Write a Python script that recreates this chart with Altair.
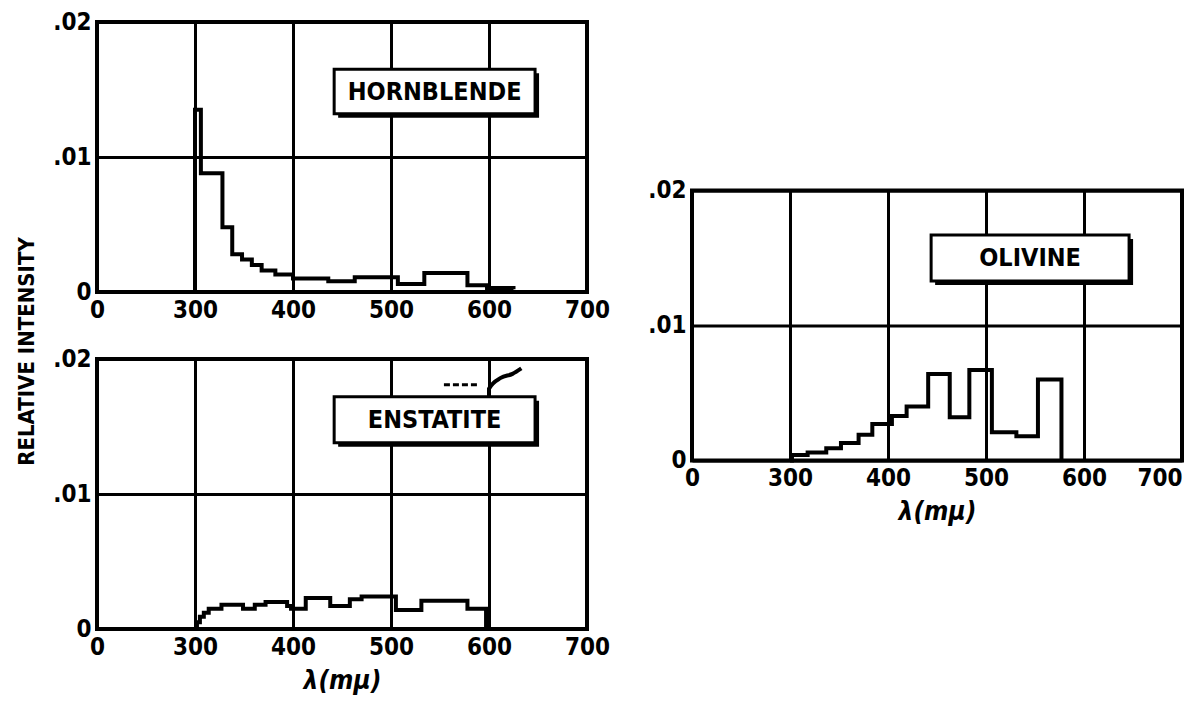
import altair as alt
import pandas as pd

# ---------------- data ----------------
X_TICKS = [200, 300, 400, 500, 600, 700]   # position 200 is labelled "0" (broken axis)
Y_TICKS = [0, 0.01, 0.02]

horn_x = [300, 300, 306, 328, 338, 348, 358, 368, 382, 400, 436, 463, 507, 534, 578, 598, 625]
horn_y = [0, 0.0135, 0.0088, 0.0048, 0.0028, 0.0024, 0.0020, 0.0016, 0.0013, 0.0010,
          0.0008, 0.0011, 0.0006, 0.0014, 0.0005, 0.0003, 0.0002]

ens_x = [300, 302, 305, 309, 314, 327, 349, 361, 372, 394, 398, 413, 438, 458, 470, 505, 531, 578, 597]
ens_y = [0, 0.0005, 0.0009, 0.0012, 0.0015, 0.0018, 0.0015, 0.0018, 0.0020, 0.0017,
         0.0015, 0.0023, 0.0017, 0.0022, 0.0024, 0.0014, 0.0021, 0.0015, 0]

ens_hi_x = [600, 600, 612, 624, 633]
ens_hi_y = [0.0166, 0.0178, 0.0186, 0.0189, 0.0193]
ens_dash_x = [554, 588]
ens_dash_y = [0.0181, 0.0181]

ol_x = [300, 302, 318, 337, 352, 370, 384, 404, 419, 441, 463, 483, 506, 531, 553, 577]
ol_y = [0, 0.0004, 0.0006, 0.0009, 0.0013, 0.0019, 0.0027, 0.0033, 0.0040, 0.0064,
        0.0032, 0.0067, 0.0021, 0.0018, 0.0060, 0]

labels = ["HORNBLENDE", "ENSTATITE", "OLIVINE"]
box_x = [442, 442, 444]
box_x2 = [647, 647, 646]
box_y = [0.0132, 0.0138, 0.0133]
box_y2 = [0.0165, 0.0172, 0.0167]

Y_TITLE = "RELATIVE INTENSITY"
X_TITLE = "λ(mμ)"

# ---------------- style ----------------
FONT = "DejaVu Sans Condensed, Liberation Sans, sans-serif"
W, H = 490, 270


def xenc(field, title=None, flush_last=False):
    ax = dict(values=X_TICKS, labelExpr="datum.value == 200 ? '0' : datum.value")
    if flush_last:
        ax["labelAlign"] = {"condition": {"test": "datum.value == 700", "value": "right"},
                            "value": "center"}
    return alt.X(field, type="quantitative", title=title,
                 scale=alt.Scale(domain=[200, 700], nice=False, zero=False),
                 axis=alt.Axis(**ax))


def yenc(field):
    return alt.Y(field, type="quantitative", title=None,
                 scale=alt.Scale(domain=[0, 0.02], nice=False),
                 axis=alt.Axis(values=Y_TICKS,
                               labelExpr="datum.value == 0 ? '0' : (datum.value < 0.015 ? '.01' : '.02')"))


def panel(xs, ys, idx, xtitle=None, extras=(), flush_last=False):
    X = lambda f: xenc(f, xtitle, flush_last)
    df = pd.DataFrame({"x": xs, "y": ys})
    line = alt.Chart(df).mark_line(interpolate="step-after", color="black",
                                   strokeWidth=4, strokeJoin="miter").encode(
        x=X("x"), y=yenc("y"))
    bdf = pd.DataFrame({"x": [box_x[idx]], "x2": [box_x2[idx]],
                        "y": [box_y[idx]], "y2": [box_y2[idx]], "t": [labels[idx]]})
    bbase = alt.Chart(bdf)
    shadow = bbase.mark_rect(color="black", xOffset=4, x2Offset=4, yOffset=4, y2Offset=4).encode(
        x=X("x"), x2="x2", y=yenc("y"), y2="y2")
    box = bbase.mark_rect(fill="white", stroke="black", strokeWidth=3).encode(
        x=X("x"), x2="x2", y=yenc("y"), y2="y2")
    txt = bbase.transform_calculate(xc="(datum.x + datum.x2) / 2", yc="(datum.y + datum.y2) / 2").mark_text(
        font=FONT, fontSize=25, fontWeight="bold", color="black", baseline="middle", align="center").encode(
        x=X("xc:Q"), y=yenc("yc:Q"), text="t:N")
    layers = [line, *[e(X) for e in extras], shadow, box, txt]
    return alt.layer(*layers).properties(width=W, height=H)


top = panel(horn_x, horn_y, 0)


def hi(X):
    return alt.Chart(pd.DataFrame({"x": ens_hi_x, "y": ens_hi_y})).mark_line(
        color="black", strokeWidth=4, interpolate="monotone").encode(x=X("x"), y=yenc("y"))


def dash(X):
    return alt.Chart(pd.DataFrame({"x": ens_dash_x, "y": ens_dash_y})).mark_line(
        color="black", strokeWidth=3, strokeDash=[6, 3]).encode(x=X("x"), y=yenc("y"))


bottom = panel(ens_x, ens_y, 1, xtitle=X_TITLE, extras=[hi, dash])

right = panel(ol_x, ol_y, 2, xtitle=X_TITLE, flush_last=True)

left = alt.vconcat(top, bottom, spacing=21).properties(
    title=alt.TitleParams(text=Y_TITLE, orient="left", anchor="middle", font=FONT,
                          fontSize=22, fontWeight="bold", color="black", offset=12))

chart = alt.hconcat(left, right, spacing=33, center=True).properties(
    padding={"left": 7, "top": 0, "right": 0, "bottom": 0},
    background="white",
).configure_axis(
    grid=True, gridColor="black", gridWidth=3, gridOpacity=1,
    domain=False, ticks=False,
    labelFont=FONT, labelFontSize=24, labelFontWeight="bold", labelColor="black",
    labelPadding=6, labelFlush=False, labelOverlap=False,
    titleFont=FONT, titleFontSize=26, titleFontWeight="bold", titleFontStyle="italic",
    titleColor="black", titlePadding=8,
).configure_view(stroke="black", strokeWidth=4)

chart.save("out.html", embed_options={"renderer": "svg", "actions": False})
